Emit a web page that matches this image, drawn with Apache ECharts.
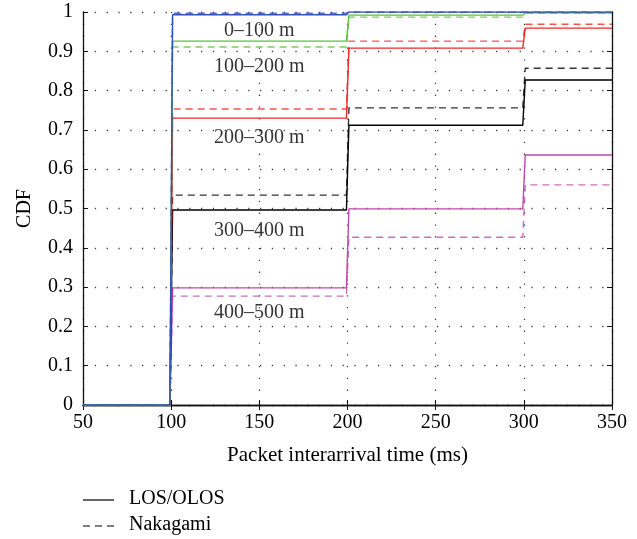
<!DOCTYPE html>
<html><head><meta charset="utf-8">
<script src="https://cdn.jsdelivr.net/npm/echarts@6/dist/echarts.min.js"></script>
<style>html,body{margin:0;padding:0;background:#fff}#c{width:637px;height:539px}</style>
</head><body><div id="c"></div>
<script>
// step break positions (ms): levels hold before/after each jump at 100, 200, 300 ms
const xBreaks = [50, 99.3, 100.8, 199.4, 200.8, 299.4, 300.8, 350];
const rangeNames = ['0\u2013100 m', '100\u2013200 m', '200\u2013300 m', '300\u2013400 m', '400\u2013500 m'];
const colors = ['#3050c0', '#5cc03a', '#f02828', '#000000', '#c04aa8'];
// LOS/OLOS (solid) CDF levels: [<100, 100-200, 200-300, >300]
const los_0_100   = [0, 0.993, 1.000, 1.000];
const los_100_200 = [0, 0.926, 0.992, 0.998];
const los_200_300 = [0, 0.730, 0.908, 0.959];
const los_300_400 = [0, 0.496, 0.712, 0.827];
const los_400_500 = [0, 0.298, 0.499, 0.636];
// Nakagami (dashed) CDF levels
const nak_0_100   = [0, 0.997, 1.000, 1.000];
const nak_100_200 = [0, 0.911, 0.987, 0.997];
const nak_200_300 = [0, 0.753, 0.926, 0.969];
const nak_300_400 = [0, 0.534, 0.756, 0.857];
const nak_400_500 = [0, 0.277, 0.427, 0.560];
// annotation label positions (data coords)
const labelX = [150, 150, 150, 150, 150];
const labelY = [0.952, 0.860, 0.680, 0.444, 0.234];
const legendNames = ['LOS/OLOS', 'Nakagami'];

const losSets = [los_0_100, los_100_200, los_200_300, los_300_400, los_400_500];
const nakSets = [nak_0_100, nak_100_200, nak_200_300, nak_300_400, nak_400_500];

function stepData(lv) {
  const ys = [lv[0], lv[0], lv[1], lv[1], lv[2], lv[2], lv[3], lv[3]];
  return xBreaks.map((x, i) => [x, ys[i]]);
}
const FONT = 'Liberation Serif';
const TXT = '#000';
const series = [];
nakSets.forEach((lv, i) => series.push({
  type: 'line', name: 'nak' + i, data: stepData(lv), symbol: 'none', silent: true,
  lineStyle: { color: colors[i], width: 1.4, type: [7, 5], opacity: 0.8 }, z: 2
}));
losSets.slice().reverse().forEach((lv, k) => {
  const i = 4 - k;
  series.push({
    type: 'line', name: 'los' + i, data: stepData(lv), symbol: 'none', silent: true,
    lineStyle: { color: colors[i], width: 1.4 }, z: 3
  });
});
series.push({
  type: 'scatter', symbolSize: 0, silent: true, z: 5,
  data: labelX.map((x, i) => ({ value: [x, labelY[i]], name: rangeNames[i] })),
  label: { show: true, position: 'inside', formatter: p => p.name, fontFamily: FONT, fontSize: 20, color: TXT }
});

const gridLine = { show: true, lineStyle: { color: '#444', type: [1.3, 10.5], width: 1.3 } };
const chart = echarts.init(document.getElementById('c'), null, { renderer: 'canvas' });
chart.setOption({
  animation: false,
  backgroundColor: '#fff',
  grid: { left: 83, right: 25, top: 12, bottom: 134 },
  graphic: [
    { type: 'line', shape: { x1: 83, y1: 500, x2: 114, y2: 500 }, style: { stroke: '#000', lineWidth: 1.2 } },
    { type: 'text', left: 129, top: 489, style: { text: legendNames[0], font: '20px "Liberation Serif"', fill: TXT } },
    { type: 'line', shape: { x1: 83, y1: 526, x2: 114, y2: 526 }, style: { stroke: '#000', lineWidth: 1.2, lineDash: [7, 5] } },
    { type: 'text', left: 129, top: 515, style: { text: legendNames[1], font: '20px "Liberation Serif"', fill: TXT } }
  ],
  xAxis: [{
    type: 'value', min: 50, max: 350, interval: 50,
    name: 'Packet interarrival time (ms)', nameLocation: 'middle', nameGap: 40,
    nameTextStyle: { fontFamily: FONT, fontSize: 21, color: TXT },
    axisLine: { show: true, lineStyle: { color: '#111', width: 1.3 } },
    axisTick: { show: true, inside: true, length: 5, lineStyle: { color: '#111' } },
    axisLabel: { fontFamily: FONT, fontSize: 20, color: TXT, margin: 8 },
    splitLine: gridLine
  }, {
    type: 'value', min: 50, max: 350, interval: 50, position: 'top',
    axisLine: { show: true, lineStyle: { color: '#111', width: 1.3 } },
    axisTick: { show: true, inside: true, length: 5, lineStyle: { color: '#111' } },
    axisLabel: { show: false }, splitLine: { show: false }
  }],
  yAxis: [{
    type: 'value', min: 0, max: 1, interval: 0.1,
    name: 'CDF', nameLocation: 'middle', nameGap: 48, nameRotate: 90,
    nameTextStyle: { fontFamily: FONT, fontSize: 20, color: TXT },
    axisLine: { show: true, lineStyle: { color: '#111', width: 1.3 } },
    axisTick: { show: true, inside: true, length: 5, lineStyle: { color: '#111' } },
    axisLabel: { fontFamily: FONT, fontSize: 20, color: TXT, margin: 10,
      formatter: v => (Math.round(v * 10) / 10).toString() },
    splitLine: gridLine
  }, {
    type: 'value', min: 0, max: 1, interval: 0.1, position: 'right',
    axisLine: { show: true, lineStyle: { color: '#111', width: 1.3 } },
    axisTick: { show: true, inside: true, length: 5, lineStyle: { color: '#111' } },
    axisLabel: { show: false }, splitLine: { show: false }
  }],
  series: series
});
</script></body></html>
